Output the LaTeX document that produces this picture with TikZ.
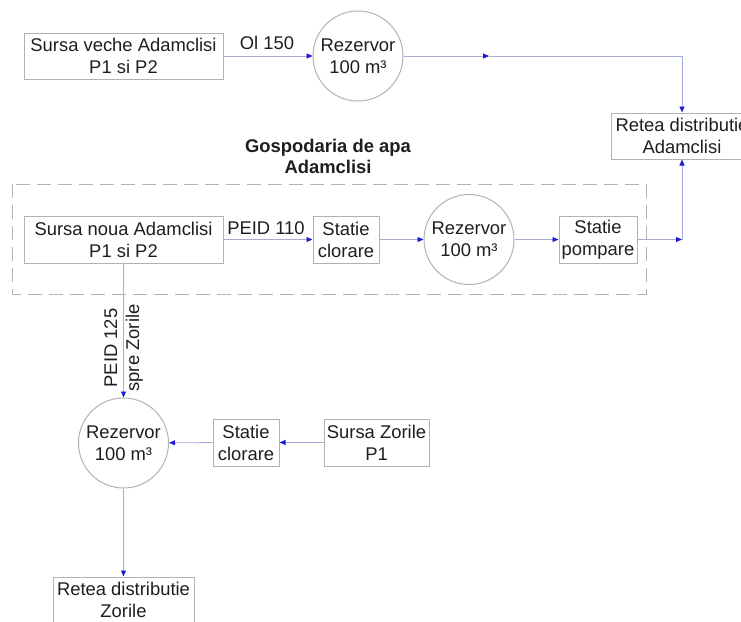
\documentclass[tikz,border=0pt]{standalone}
\usepackage{fontspec}
\setmainfont{Liberation Sans}
\usetikzlibrary{arrows.meta}
\definecolor{pipecol}{RGB}{165,172,215}
\definecolor{tipcol}{RGB}{30,30,205}
\definecolor{boxcol}{RGB}{178,178,178}
\definecolor{txtcol}{RGB}{30,30,30}

\begin{document}
\begin{tikzpicture}[x=1pt,y=-1pt,
  every node/.style={font=\fontsize{18.4}{22}\selectfont, text=txtcol, align=center},
  box/.style={draw=boxcol, line width=1pt, inner sep=0pt},
  tank/.style={draw=boxcol, circle, line width=1pt, minimum size=90pt, inner sep=0pt},
  pipe/.style={draw=pipecol, line width=0.9pt, -{Triangle[length=6pt,width=5pt,color=tipcol]}}]
\useasboundingbox (0,0) rectangle (741,621);

% sursa veche
\node [box, minimum width=199pt, minimum height=46pt] (sv) at (123.5,56) {Sursa veche Adamclisi\\P1 si P2};
\node [tank] (r1) at (358,56) {Rezervor\\100 m³};
\node (oi) at (267,43) {Ol 150};
\coordinate (m1) at (489,56);
\node [box, minimum width=142pt, minimum height=46pt] (ra) at (682,136) {Retea distributie\\Adamclisi};
\draw [pipe] (sv) -- (r1);
\draw [pipe] (r1) -- (m1);
\draw [pipe] (m1) -| (ra);

% gospodaria
\node [font=\bfseries\fontsize{18.4}{21}\selectfont] (gosp) at (328,156) {Gospodaria de apa\\Adamclisi};
\draw [boxcol, line width=1pt, dash pattern=on 14pt off 7pt] (12,184) rectangle (646,294);
\node [box, minimum width=199pt, minimum height=47pt] (sn) at (123.5,239.5) {Sursa noua Adamclisi\\P1 si P2};
\node (peid) at (266,228) {PEID 110};
\node [box, minimum width=66pt, minimum height=47pt] (sc1) at (346,239.5) {Statie\\clorare};
\node [tank] (r2) at (469,239.5) {Rezervor\\100 m³};
\node [box, minimum width=78pt, minimum height=47pt] (sp) at (598,239.5) {Statie\\pompare};
\coordinate (c2) at (682,239.5);
\draw [pipe] (sn) -- (sc1);
\draw [pipe] (sc1) -- (r2);
\draw [pipe] (r2) -- (sp);
\draw [pipe] (sp) -- (c2);
\draw [pipe] (c2) -- (ra);

% Zorile
\node [tank] (r3) at (123.5,443) {Rezervor\\100 m³};
\node [rotate=90] (spre) at (123.5,348) {PEID 125\\spre Zorile};
\node [box, minimum width=66pt, minimum height=47pt] (sc2) at (246,442.5) {Statie\\clorare};
\node [box, minimum width=105pt, minimum height=47pt] (sz) at (376.5,442.5) {Sursa Zorile\\P1};
\node [box, minimum width=141pt, minimum height=46pt] (rz) at (123.5,600) {Retea distributie\\Zorile};
\draw [pipe] (sn) -- (r3);
\draw [pipe] (sz) -- (sc2);
\draw [pipe] (sc2) -- (r3);
\draw [pipe] (r3) -- (rz);

\end{tikzpicture}
\end{document}
